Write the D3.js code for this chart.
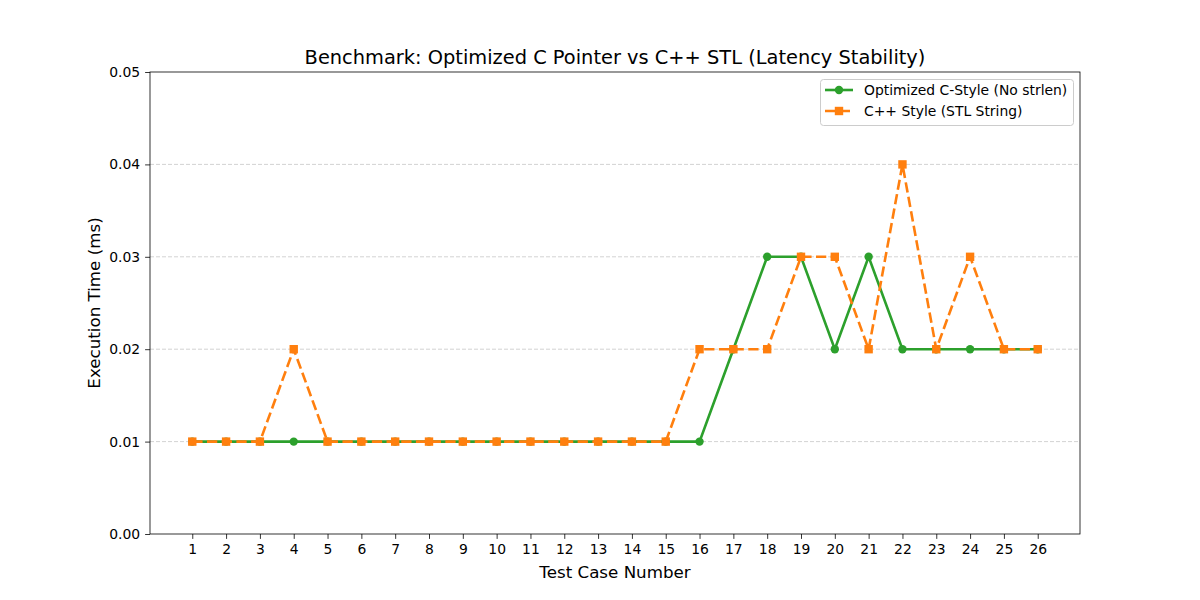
<!DOCTYPE html>
<html><head><meta charset="utf-8">
<script src="https://cdn.jsdelivr.net/npm/d3@7"></script>
<style>body{margin:0;background:#fff;} svg{font-family:"DejaVu Sans",sans-serif;}</style>
</head><body>
<svg id="c" width="1200" height="600"></svg>
<script>
const testCases = d3.range(1, 27);
const cStyle = [0.01,0.01,0.01,0.01,0.01,0.01,0.01,0.01,0.01,0.01,0.01,0.01,0.01,0.01,0.01,0.01,0.02,0.03,0.03,0.02,0.03,0.02,0.02,0.02,0.02,0.02];
const cppStyle = [0.01,0.01,0.01,0.02,0.01,0.01,0.01,0.01,0.01,0.01,0.01,0.01,0.01,0.01,0.01,0.02,0.02,0.02,0.03,0.03,0.02,0.04,0.02,0.03,0.02,0.02];
const yTicks = [0.00,0.01,0.02,0.03,0.04,0.05];
const seriesNames = ["Optimized C-Style (No strlen)", "C++ Style (STL String)"];

const svg = d3.select("#c");
const L=150,R=1080,T=72,B=534;
const x = d3.scaleLinear().domain([-0.25,27.25]).range([L,R]);
const y = d3.scaleLinear().domain([0,0.05]).range([B,T]);

// grid
svg.append("g").selectAll("line").data(yTicks.slice(1,-1)).join("line")
  .attr("x1",L).attr("x2",R).attr("y1",d=>y(d)).attr("y2",d=>y(d))
  .attr("stroke","#b0b0b0").attr("stroke-opacity",0.7).attr("stroke-width",0.8).attr("stroke-dasharray","4,2");

// axes
const xa = svg.append("g").attr("transform",`translate(0,${B})`)
  .call(d3.axisBottom(x).tickValues(testCases).tickFormat(d3.format("d")).tickSize(4.9).tickPadding(4.9));
const ya = svg.append("g").attr("transform",`translate(${L},0)`)
  .call(d3.axisLeft(y).tickValues(yTicks).tickFormat(d3.format(".2f")).tickSize(4.9).tickPadding(4.9));
[xa,ya].forEach(a=>{a.select(".domain").remove();a.selectAll("text").attr("font-size","13.9px").attr("fill","#000").attr("font-family","DejaVu Sans");a.selectAll("line").attr("stroke","#000").attr("stroke-width",0.8);});
svg.append("rect").attr("x",L).attr("y",T).attr("width",R-L).attr("height",B-T).attr("fill","none").attr("stroke","#000").attr("stroke-width",0.8);

const line = d3.line().x((d,i)=>x(testCases[i])).y(d=>y(d));
// green
svg.append("path").datum(cStyle).attr("d",line).attr("fill","none").attr("stroke","#2ca02c").attr("stroke-width",2.6);
svg.append("g").selectAll("circle").data(cStyle).join("circle")
  .attr("cx",(d,i)=>x(testCases[i])).attr("cy",d=>y(d)).attr("r",4.2).attr("fill","#2ca02c");
// orange
svg.append("path").datum(cppStyle).attr("d",line).attr("fill","none").attr("stroke","#ff7f0e").attr("stroke-width",2.6).attr("stroke-dasharray","10.3,4.4");
svg.append("g").selectAll("rect").data(cppStyle).join("rect")
  .attr("x",(d,i)=>x(testCases[i])-4.2).attr("y",d=>y(d)-4.2).attr("width",8.4).attr("height",8.4).attr("fill","#ff7f0e");

// title & labels
svg.append("text").attr("x",(L+R)/2).attr("y",64).attr("text-anchor","middle").attr("font-size","19.4px").text("Benchmark: Optimized C Pointer vs C++ STL (Latency Stability)");
svg.append("text").attr("x",(L+R)/2).attr("y",578).attr("text-anchor","middle").attr("font-size","16.7px").text("Test Case Number");
svg.append("text").attr("transform",`translate(100,${(T+B)/2}) rotate(-90)`).attr("text-anchor","middle").attr("font-size","16.7px").text("Execution Time (ms)");

// legend
const lg = svg.append("g");
lg.append("rect").attr("x",820.5).attr("y",79.5).attr("width",253).attr("height",46).attr("rx",3).attr("fill","#fff").attr("fill-opacity",0.8).attr("stroke","#cccccc");
const lx1=825, lx2=853;
// item 1
lg.append("line").attr("x1",lx1).attr("x2",lx2).attr("y1",90).attr("y2",90).attr("stroke","#2ca02c").attr("stroke-width",2.6);
lg.append("circle").attr("cx",(lx1+lx2)/2).attr("cy",90).attr("r",4.2).attr("fill","#2ca02c");
lg.append("text").attr("x",864).attr("y",95).attr("font-size","13.9px").text(seriesNames[0]);
// item 2
lg.append("line").attr("x1",lx1).attr("x2",lx2).attr("y1",111).attr("y2",111).attr("stroke","#ff7f0e").attr("stroke-width",2.6).attr("stroke-dasharray","10.3,4.4");
lg.append("rect").attr("x",(lx1+lx2)/2-4.2).attr("y",111-4.2).attr("width",8.4).attr("height",8.4).attr("fill","#ff7f0e");
lg.append("text").attr("x",864).attr("y",116).attr("font-size","13.9px").text(seriesNames[1]);
</script>
</body></html>
